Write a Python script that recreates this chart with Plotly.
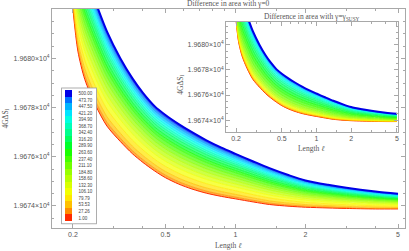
import plotly.graph_objects as go

# ---------------- data ----------------
ell = [0.2, 0.21, 0.225, 0.25, 0.28, 0.32, 0.36, 0.4, 0.45, 0.5, 0.57, 0.65,
       0.75, 0.87, 1.0, 1.2, 1.4, 1.7, 2.0, 2.5, 3.0, 4.0, 5.0]

# upper envelope (gamma = 500) and lower envelope (gamma = 1)
top_curve = [19685.0, 19684.4, 19683.5, 19682.3, 19681.1, 19680.0, 19679.2,
             19678.6, 19678.05, 19677.7, 19677.33, 19677.0, 19676.67, 19676.37,
             19676.12, 19675.8, 19675.54, 19675.25, 19675.04, 19674.86, 19674.74,
             19674.59, 19674.5]
bottom_curve = [19682.0, 19680.3, 19679.14, 19678.1, 19677.25, 19676.62, 19676.13,
                19675.77, 19675.42, 19675.15, 19674.89, 19674.69, 19674.52, 19674.39,
                19674.29, 19674.16, 19674.06, 19673.99, 19673.95, 19673.92, 19673.9,
                19673.88, 19673.88]

gamma_labels = ["1.00", "27.26", "53.53", "79.79", "106.10", "132.30", "158.60",
                "184.80", "211.10", "237.40", "263.60", "289.90", "316.20", "342.40",
                "368.70", "394.90", "421.20", "447.50", "473.70", "500.00"]

# relative position of each gamma curve inside the band (0 = bottom, 1 = top)
frac_main = [0.0, 0.04, 0.10, 0.18, 0.26, 0.33, 0.40, 0.46, 0.52, 0.58,
             0.63, 0.68, 0.73, 0.77, 0.81, 0.85, 0.89, 0.93, 0.965, 1.0]
frac_inset = [0.0, 0.015, 0.04, 0.07, 0.10, 0.14, 0.19, 0.25, 0.33, 0.42,
              0.51, 0.60, 0.68, 0.75, 0.81, 0.86, 0.905, 0.945, 0.975, 1.0]

level_colors = ["#ff2a00", "#ff8c00", "#ffc000", "#ffe600", "#f2ff00", "#d8ff00",
                "#b8ff00", "#98ff00", "#70ff00", "#44ff00", "#1aff00", "#00ff2a",
                "#00ff5c", "#00ff8c", "#00ffb8", "#00ffe0", "#00e4ff", "#00b4ff",
                "#0070ff", "#0000e6"]

y_tickvals = [19674, 19676, 19678, 19680]
y_ticktext = ["1.9674×10<sup>4</sup>", "1.9676×10<sup>4</sup>",
              "1.9678×10<sup>4</sup>", "1.9680×10<sup>4</sup>"]
x_tickvals = [0.2, 0.5, 1, 2, 5]
x_ticktext = ["0.2", "0.5", "1", "2", "5"]
x_minor = [0.3, 0.4, 0.6, 0.7, 0.8, 0.9, 1.5, 3, 4]

# ---------------- figure ----------------
def rgba(hexc, a):
    h = hexc.lstrip("#")
    return "rgba(%d,%d,%d,%.2f)" % (int(h[0:2], 16), int(h[2:4], 16), int(h[4:6], 16), a)

fig = go.Figure()

def add_band(xa, ya, fracs):
    n = len(fracs)
    for i, (f, c) in enumerate(zip(fracs, level_colors)):
        yv = [b + f * (t - b) for b, t in zip(bottom_curve, top_curve)]
        w = 2.0 if i == n - 1 else (1.0 if i == 0 else 0.7)
        fig.add_trace(go.Scatter(
            x=ell, y=yv, mode="lines", xaxis=xa, yaxis=ya,
            line=dict(color=c, width=w, shape="spline", smoothing=0.8),
            fill="tonexty" if i > 0 else "none",
            fillcolor=rgba(c, 0.72),
            showlegend=False, hoverinfo="skip"))

add_band("x", "y", frac_main)
add_band("x2", "y2", frac_inset)

# discrete colour key
nlev = len(level_colors)
cscale = []
for i, c in enumerate(level_colors):
    cscale.append([i / nlev, c])
    cscale.append([(i + 1) / nlev, c])

fig.add_trace(go.Scatter(
    x=[None], y=[None], mode="markers", showlegend=False, hoverinfo="skip",
    marker=dict(color=[0], colorscale=cscale, cmin=-0.5, cmax=nlev - 0.5,
                showscale=True,
                colorbar=dict(
                    x=0.028, xanchor="left", y=0.33, yanchor="middle",
                    len=135, lenmode="pixels", thickness=7,
                    xpad=3, ypad=2, outlinewidth=0,
                    bgcolor="white", bordercolor="#999", borderwidth=0.8,
                    tickvals=list(range(nlev)), ticktext=gamma_labels,
                    ticks="outside", ticklen=6, tickcolor="rgba(0,0,0,0)",
                    tickfont=dict(family="Liberation Sans", size=4.5, color="#444")))))

frame = "#a8a8a8"
tickfont = dict(family="Liberation Sans", size=7, color="#555")

def xaxis_style(domain, rng, anchor):
    return dict(type="log", domain=domain, range=rng, anchor=anchor,
                tickmode="array", tickvals=x_tickvals, ticktext=x_ticktext,
                ticks="inside", ticklen=4, tickwidth=0.8, tickcolor=frame,
                minor=dict(tickvals=x_minor, ticks="inside", ticklen=2,
                           tickwidth=0.6, tickcolor=frame),
                showline=True, linecolor=frame, linewidth=1, mirror="allticks",
                showgrid=False, zeroline=False, tickfont=tickfont)

def yaxis_style(domain, rng, anchor):
    return dict(domain=domain, range=rng, anchor=anchor,
                tickmode="array", tickvals=y_tickvals, ticktext=y_ticktext,
                ticks="inside", ticklen=4, tickwidth=0.8, tickcolor=frame,
                minor=dict(dtick=0.5, ticks="inside", ticklen=2,
                           tickwidth=0.6, tickcolor=frame),
                showline=True, linecolor=frame, linewidth=1, mirror="allticks",
                showgrid=False, zeroline=False, tickfont=tickfont)

serif = dict(family="Liberation Serif", size=7.5, color="#555")

fig.update_layout(
    width=409, height=251,
    margin=dict(l=52, r=4, t=9, b=23),
    paper_bgcolor="white", plot_bgcolor="white",
    xaxis=xaxis_style([0, 1], [-0.789, 0.729], "y"),
    yaxis=yaxis_style([0, 1], [19673.105, 19682.01], "x"),
    xaxis2=xaxis_style([0.493, 0.980], [-0.786, 0.708], "y2"),
    yaxis2=yaxis_style([0.438, 0.941], [19673.04, 19681.84], "x2"),
    annotations=[
        dict(text="Difference in area with γ=0", x=0.5, y=1.023, xref="paper",
             yref="paper", xanchor="center", yanchor="middle", showarrow=False,
             font=serif),
        dict(text="Length <i>ℓ</i>", x=0.5, y=-0.082, xref="paper", yref="paper",
             xanchor="center", yanchor="middle", showarrow=False, font=serif),
        dict(text="4GΔS<sub>l</sub>", x=-0.133, y=0.5, xref="paper", yref="paper",
             xanchor="center", yanchor="middle", textangle=-90, showarrow=False,
             font=serif),
        dict(text="Difference in area with γ=γ<sub>SUSY</sub>", x=0.7365, y=0.963,
             xref="paper", yref="paper", xanchor="center", yanchor="middle",
             showarrow=False, font=serif),
        dict(text="Length <i>ℓ</i>", x=0.7365, y=0.361, xref="paper", yref="paper",
             xanchor="center", yanchor="middle", showarrow=False, font=serif),
        dict(text="4GΔS<sub>l</sub>", x=0.363, y=0.655, xref="paper", yref="paper",
             xanchor="center", yanchor="middle", textangle=-90, showarrow=False,
             font=serif),
    ],
)

fig.write_html("out.html",
               config={"displayModeBar": False},
               post_script="document.body.style.margin='0px';"
                           "document.body.style.overflow='hidden';")
